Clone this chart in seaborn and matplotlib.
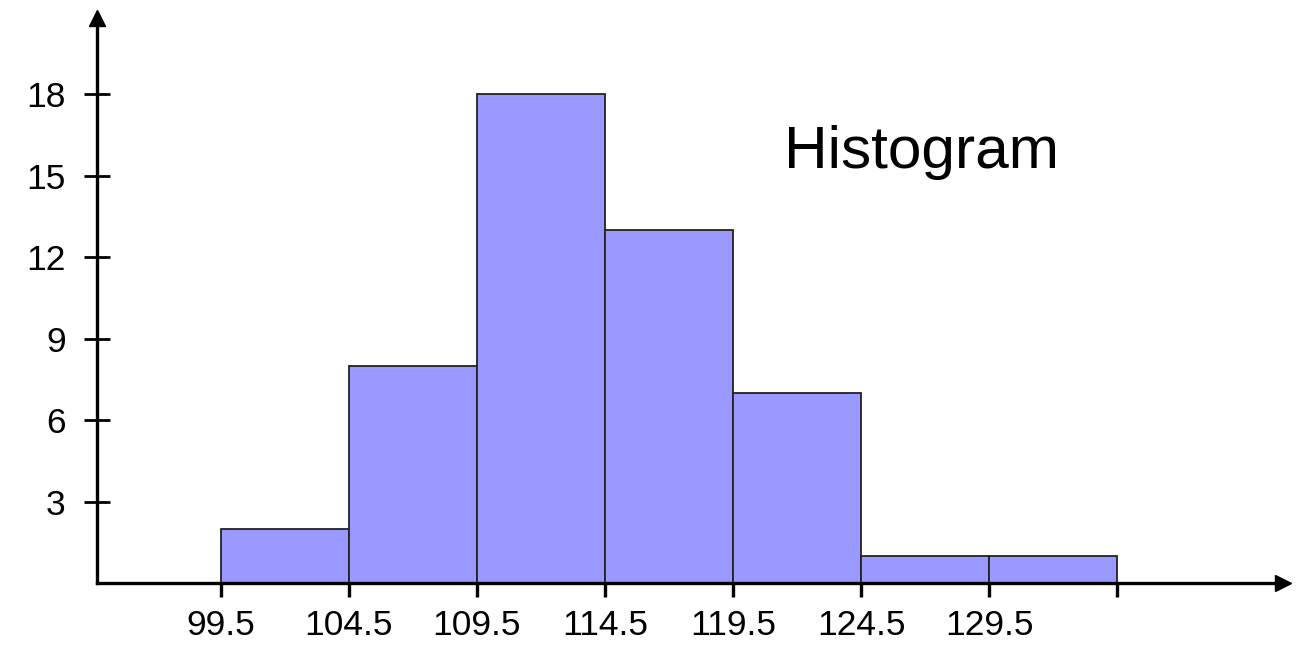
import matplotlib
matplotlib.use("Agg")
import matplotlib.pyplot as plt
import seaborn as sns

# ---- data ----
bin_edges = [99.5, 104.5, 109.5, 114.5, 119.5, 124.5, 129.5, 134.5]
counts = [2, 8, 18, 13, 7, 1, 1]
x_tick_values = [99.5, 104.5, 109.5, 114.5, 119.5, 124.5, 129.5, 134.5]
x_tick_labels = ["99.5", "104.5", "109.5", "114.5", "119.5", "124.5", "129.5", ""]
y_tick_values = [3, 6, 9, 12, 15, 18]
y_tick_labels = ["3", "6", "9", "12", "15", "18"]
title_text = "Histogram"

sns.set_theme(style="white")
plt.rcParams['font.family'] = ['Liberation Sans', 'DejaVu Sans']

W, H = 1306, 647
fig = plt.figure(figsize=(W / 100, H / 100), dpi=100)
ax = fig.add_axes([97 / W, 64 / H, 1186 / W, 565 / H])

mids = [(a + b) / 2 for a, b in zip(bin_edges[:-1], bin_edges[1:])]
sns.histplot(x=mids, weights=counts, bins=bin_edges, color="#9999FF",
             alpha=1, edgecolor="#222222", linewidth=1.3, ax=ax)

ax.set_xlim(94.66, 140.98)
ax.set_ylim(0, 20.8)
ax.set_xlabel("")
ax.set_ylabel("")

for s in ["top", "right"]:
    ax.spines[s].set_visible(False)
for s in ["left", "bottom"]:
    ax.spines[s].set_linewidth(2.4)
    ax.spines[s].set_color("black")

# arrow heads
ax.plot(1, 0, marker=">", ms=11, color="black", transform=ax.transAxes, clip_on=False)
ax.plot(0, 1, marker="^", ms=11, color="black", transform=ax.transAxes, clip_on=False)

ax.set_xticks(x_tick_values)
ax.set_xticklabels(x_tick_labels)
ax.set_yticks(y_tick_values)
ax.set_yticklabels(y_tick_labels)
ax.tick_params(axis="x", bottom=True, direction="out", length=10, width=2.4,
               labelsize=25.5, pad=9, colors="black")
ax.tick_params(axis="y", left=True, direction="inout", length=19, width=2,
               labelsize=25.5, pad=13, colors="black")

ax.text(121.5, 15.26, title_text, fontsize=43.5, ha="left", va="baseline", color="black")

fig.savefig("out.png", dpi=100, facecolor="white")
